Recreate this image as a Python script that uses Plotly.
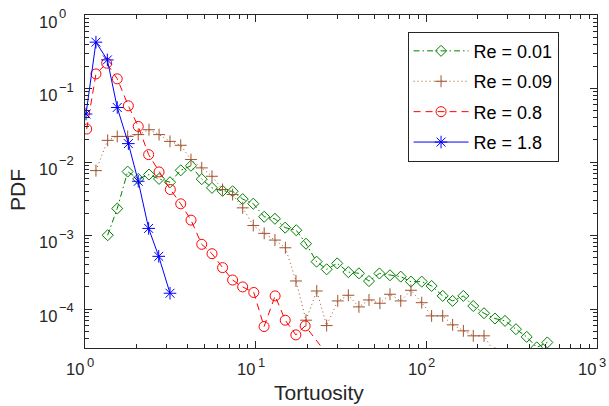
import math
import plotly.graph_objects as go

# ---------------- data ----------------
x_re001 = [1.358, 1.545, 1.778, 2.051, 2.371, 2.716, 3.148, 3.639, 4.178, 4.831,
           5.546, 6.397, 7.328, 8.395, 9.683, 11.22, 12.97, 14.89, 17.30, 19.72,
           22.75, 26.06, 30.06, 34.91, 40.27, 46.13, 53.09, 61.24, 70.79, 81.28,
           93.97, 107.4, 124.7, 142.6, 164.8, 188.4, 217.8, 252.3, 289.1, 335.0,
           387.3, 443.6, 511.7]
y_re001 = [1.01e-3, 2.33e-3, 7.41e-3, 5.89e-3, 6.75e-3, 5.89e-3, 5.31e-3, 7.71e-3, 8.9e-3, 5.85e-3,
           4.45e-3, 4.05e-3, 4.0e-3, 3.13e-3, 2.71e-3, 1.80e-3, 1.69e-3, 1.28e-3, 1.18e-3, 7.74e-4,
           4.41e-4, 3.47e-4, 4.18e-4, 3.18e-4, 3.06e-4, 2.40e-4, 3.05e-4, 2.88e-4, 2.76e-4, 2.36e-4,
           2.36e-4, 2.06e-4, 1.51e-4, 1.29e-4, 1.51e-4, 1.10e-4, 8.77e-5, 7.43e-5, 6.90e-5, 5.32e-5,
           4.18e-5, 3.01e-5, 3.51e-5]

x_re009 = [1.159, 1.358, 1.545, 1.778, 2.051, 2.371, 2.716, 3.148, 3.639, 4.178,
           4.831, 5.546, 6.397, 7.328, 8.395, 9.683, 11.22, 12.97, 14.93, 17.22,
           19.72, 22.80, 26.06, 30.27, 34.91, 40.27, 46.13, 53.46, 61.24, 70.79,
           81.28, 93.97, 107.4, 124.7, 142.6, 164.8, 188.4, 217.8, 252.3]
y_re009 = [7.64e-3, 1.97e-2, 2.23e-2, 2.23e-2, 2.36e-2, 2.75e-2, 2.36e-2, 1.91e-2, 1.69e-2, 1.08e-2,
           8.32e-3, 6.40e-3, 4.23e-3, 3.61e-3, 2.38e-3, 1.37e-3, 1.07e-3, 8.67e-4, 6.82e-4, 2.41e-4,
           7.05e-5, 1.76e-4, 5.96e-5, 1.29e-4, 1.54e-4, 1.07e-4, 1.33e-4, 1.20e-4, 1.59e-4, 1.29e-4,
           1.80e-4, 1.22e-4, 8.07e-5, 8.07e-5, 6.10e-5, 5.05e-5, 4.32e-5, 4.32e-5, 2.5e-5]

x_re08 = [1.023, 1.159, 1.340, 1.545, 1.795, 2.051, 2.360, 2.716, 3.162, 3.639,
          4.18, 4.83, 5.55, 6.40, 7.33, 8.39, 9.75, 11.2, 13.0, 14.9,
          17.2, 19.5, 26.3]
y_re08 = [0.0281, 0.158, 0.221, 0.1355, 0.0582, 0.0305, 0.0126, 0.00733, 0.00423, 0.00270,
          0.00162, 7.59e-4, 5.66e-4, 3.66e-4, 2.48e-4, 2.00e-4, 1.68e-4, 5.78e-5, 1.51e-4, 7.05e-5,
          4.45e-5, 5.90e-5, 2.4e-5]

x_re18 = [1.014, 1.159, 1.352, 1.545, 1.795, 2.051, 2.360, 2.704, 3.148]
y_re18 = [0.0450, 0.427, 0.245, 0.0552, 0.0178, 0.00547, 0.00125, 5.21e-4, 1.64e-4]

names = ["Re = 0.01", "Re = 0.09", "Re = 0.8", "Re = 1.8"]

x_tickvals = [1, 10, 100, 1000]
x_exponents = ["0", "1", "2", "3"]
y_tickvals = [1e-4, 1e-3, 1e-2, 1e-1, 1]
y_exponents = ["\u22124", "\u22123", "\u22122", "\u22121", "0"]
tick_base = "10"

x_title = "Tortuosity"
y_title = "PDF"

# ---------------- styles ----------------
FONT = "Liberation Sans, Arial, Helvetica, sans-serif"
TXT = "#262626"
BASE_SIZE = 16.5
EXP_SIZE = 13

series = [
    (x_re001, y_re001, names[0], "#008000", "6px,3px,1.5px,3px", "diamond-open", 8.5),
    (x_re009, y_re009, names[1], "#A0522D", "1px,3px", "cross-thin", 8.5),
    (x_re08, y_re08, names[2], "#FF0000", "7px,5px", "circle-open", 10),
    (x_re18, y_re18, names[3], "#0000FF", "solid", "asterisk", 10.5),
]

fig = go.Figure()
for i, (xs, ys, nm, col, dash, sym, sz) in enumerate(series):
    fig.add_trace(go.Scatter(
        x=xs, y=ys, name=nm, mode="lines+markers", legendgroup=f"g{i}",
        line=dict(color=col, width=1, dash=dash),
        marker=dict(symbol=sym, size=sz, color=col,
                    line=dict(color=col, width=1)),
    ))

minor_x = [m * 10 ** e for e in range(0, 3) for m in range(2, 10)]
minor_y = [m * 10 ** e for e in range(-5, 0) for m in range(2, 10)]

axis_common = dict(
    type="log", showgrid=False, zeroline=False,
    showline=True, linecolor=TXT, linewidth=1, mirror="ticks",
    ticks="inside", ticklen=7, tickcolor=TXT, tickwidth=1,
    tickmode="array", showticklabels=False,
)

fig.update_xaxes(
    **axis_common,
    range=[0, 3],
    tickvals=x_tickvals,
    minor=dict(tickmode="array", tickvals=minor_x, ticks="inside", ticklen=4,
               tickcolor=TXT, showgrid=False),
)
fig.update_yaxes(
    **axis_common,
    range=[-4.53, 0],
    tickvals=y_tickvals,
    minor=dict(tickmode="array", tickvals=minor_y, ticks="inside", ticklen=4,
               tickcolor=TXT, showgrid=False),
)

# tick labels "10" with exponent, placed at the axis tick positions
base_font = dict(family=FONT, size=BASE_SIZE, color=TXT)
exp_font = dict(family=FONT, size=EXP_SIZE, color=TXT)
for tv, ex in zip(x_tickvals, x_exponents):
    lx = math.log10(tv)
    fig.add_annotation(text=tick_base, xref="x", yref="paper", x=lx, y=0,
                       xanchor="right", yanchor="middle", xshift=1.3, yshift=-21.3,
                       showarrow=False, font=base_font)
    fig.add_annotation(text=ex, xref="x", yref="paper", x=lx, y=0,
                       xanchor="left", yanchor="middle", xshift=0, yshift=-14.1,
                       showarrow=False, font=exp_font)
for tv, ex in zip(y_tickvals, y_exponents):
    ly = math.log10(tv)
    fig.add_annotation(text=tick_base, xref="paper", yref="y", x=0, y=ly,
                       xanchor="right", yanchor="middle", xshift=-25.7, yshift=-6.6,
                       showarrow=False, font=base_font)
    fig.add_annotation(text=ex, xref="paper", yref="y", x=0, y=ly,
                       xanchor="left", yanchor="middle", xshift=-27.7, yshift=1.2,
                       showarrow=False, font=exp_font)

fig.add_annotation(text=x_title, xref="paper", yref="paper", x=0.457, y=-0.133,
                   xanchor="center", yanchor="middle", showarrow=False,
                   font=dict(family=FONT, size=21, color=TXT))
fig.add_annotation(text=y_title, xref="paper", yref="paper", x=-0.132, y=0.476,
                   xanchor="center", yanchor="middle", showarrow=False, textangle=-90,
                   font=dict(family=FONT, size=21, color=TXT))

fig.update_layout(
    width=609, height=406,
    margin=dict(l=85, r=12, t=15, b=58, autoexpand=False),
    paper_bgcolor="white", plot_bgcolor="white",
    font=dict(family=FONT, color=TXT),
    legend=dict(
        x=0.630, y=0.95, xanchor="left", yanchor="top",
        bgcolor="white", bordercolor=TXT, borderwidth=1,
        font=dict(family=FONT, size=18, color="black"),
        itemwidth=55, traceorder="grouped", tracegroupgap=4,
    ),
)

fig.write_html("out.html")
